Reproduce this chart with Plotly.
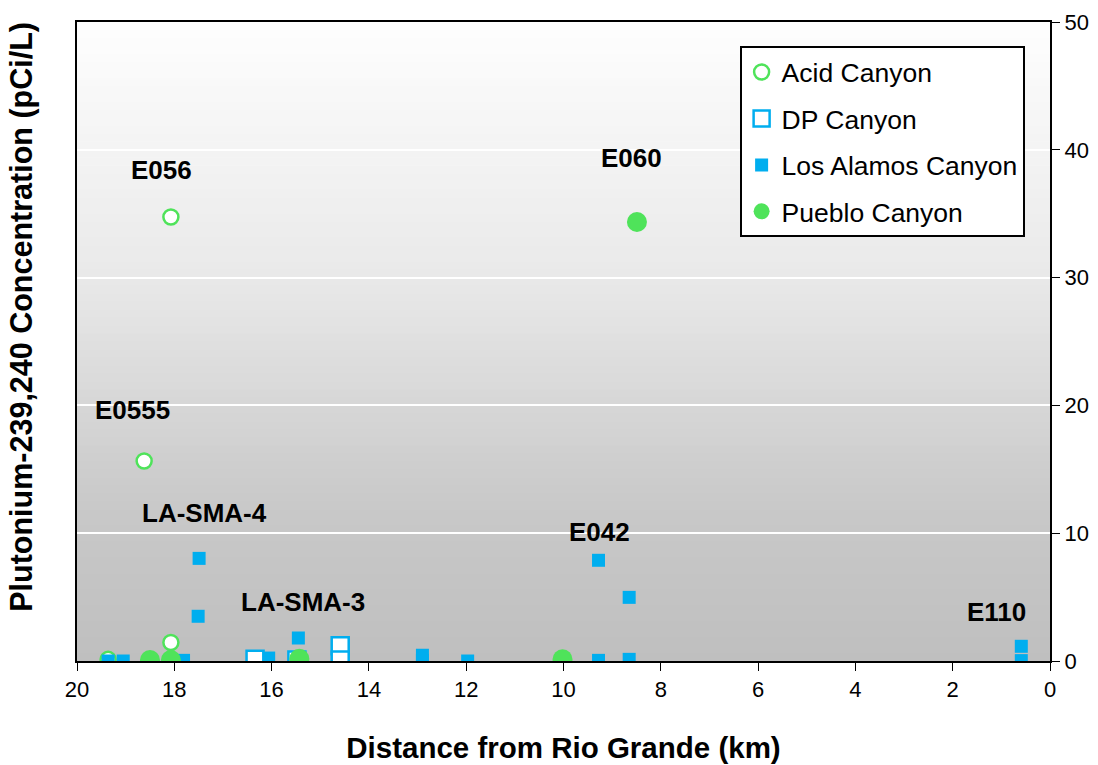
import plotly.graph_objects as go

# ---- data ----
acid_x = [18.07, 18.62, 18.07, 19.36]
acid_y = [34.74, 15.65, 1.45, 0.13]

dp_x = [16.34, 15.48, 14.59, 14.59]
dp_y = [0.13, 0.08, 1.2, 0.08]

la_x = [19.36, 19.05, 17.81, 17.49, 17.51, 16.06, 15.45, 12.90, 12.90, 11.97, 9.28, 8.65, 9.28, 8.65, 0.59, 0.59]
la_y = [0.0, 0.0, 0.05, 8.03, 3.5, 0.23, 1.8, 0.45, 0.05, 0.0, 7.88, 4.98, 0.05, 0.13, 1.15, 0.03]

pueblo_x = [18.50, 18.07, 15.43, 10.02, 8.49]
pueblo_y = [0.08, 0.08, 0.18, 0.13, 34.35]

label_text = ["E056", "E0555", "LA-SMA-4", "LA-SMA-3", "E042", "E060", "E110"]
label_x = [18.27, 18.85, 17.37, 15.35, 9.25, 8.61, 1.11]
label_y = [38.42, 19.64, 11.58, 4.62, 10.09, 39.36, 3.83]

x_ticks = list(range(0, 21, 2))
y_ticks = list(range(0, 51, 10))

GREEN = "#4fe35a"
BLUE = "#00aeef"
FONT = "Liberation Sans, Arial, sans-serif"

fig = go.Figure()
fig.add_trace(go.Scatter(x=acid_x, y=acid_y, mode="markers", name="Acid Canyon",
                         legendgroup="a",
                         marker=dict(symbol="circle", size=15, color="white",
                                     line=dict(color=GREEN, width=2.5))))
fig.add_trace(go.Scatter(x=dp_x, y=dp_y, mode="markers", name="DP Canyon",
                         legendgroup="b",
                         marker=dict(symbol="square", size=17, color="white",
                                     line=dict(color=BLUE, width=2.5))))
fig.add_trace(go.Scatter(x=la_x, y=la_y, mode="markers", name="Los Alamos Canyon",
                         legendgroup="c",
                         marker=dict(symbol="square", size=13, color=BLUE,
                                     line=dict(width=0))))
fig.add_trace(go.Scatter(x=pueblo_x, y=pueblo_y, mode="markers", name="Pueblo Canyon",
                         legendgroup="d",
                         marker=dict(symbol="circle", size=20, color=GREEN,
                                     line=dict(width=0))))

for t, x, y in zip(label_text, label_x, label_y):
    fig.add_annotation(x=x, y=y, text="<b>%s</b>" % t, showarrow=False,
                       font=dict(family=FONT, size=26, color="black"))

# gradient background bands
stops = [(0.0, 191), (0.25, 201), (0.6, 233), (1.0, 254)]
def gray(f):
    for (f0, c0), (f1, c1) in zip(stops[:-1], stops[1:]):
        if f0 <= f <= f1:
            return c0 + (c1 - c0) * (f - f0) / (f1 - f0)
    return stops[-1][1]
n = 80
shapes = []
for i in range(n):
    f0 = i / n
    f1 = (i + 1) / n
    g = int(round(gray((f0 + f1) / 2)))
    shapes.append(dict(type="rect", xref="x domain", yref="y domain",
                       x0=0, x1=1, y0=f0, y1=f1 + 0.001, layer="below",
                       fillcolor="rgb(%d,%d,%d)" % (g, g, g), line=dict(width=0)))

fig.add_annotation(xref="paper", yref="paper", x=-0.057, y=0.538,
                   text="<b>Plutonium-239,240 Concentration (pCi/L)</b>",
                   textangle=-90, showarrow=False, xanchor="center", yanchor="middle",
                   font=dict(family=FONT, size=30.5, color="black"))

fig.update_layout(
    width=1098, height=765,
    margin=dict(l=77, r=48, t=22, b=104),
    paper_bgcolor="white", plot_bgcolor="white",
    font=dict(family=FONT, size=22, color="black"),
    shapes=shapes,
    showlegend=True,
    legend=dict(x=0.681, y=0.962, xanchor="left", yanchor="top",
                bgcolor="white", bordercolor="black", borderwidth=2,
                font=dict(family=FONT, size=26.5, color="black"),
                tracegroupgap=9, itemsizing="trace"),
    xaxis=dict(range=[20, 0], tickvals=x_ticks, ticks="outside", ticklen=8,
               tickwidth=1, tickcolor="black", showgrid=False, zeroline=False,
               showline=True, linecolor="black", linewidth=2, mirror=True,
               tickfont=dict(size=22), automargin=False,
               title=dict(text="<b>Distance from Rio Grande (km)</b>", standoff=36,
                          font=dict(family=FONT, size=29.5))),
    yaxis=dict(range=[0, 50], tickvals=y_ticks, side="right", ticks="outside",
               ticklen=8, tickwidth=1, tickcolor="black",
               showgrid=True, gridcolor="white", gridwidth=1.5, zeroline=False,
               showline=True, linecolor="black", linewidth=2, mirror=True,
               tickfont=dict(size=22), automargin=False),
)

fig.write_html("out.html")
